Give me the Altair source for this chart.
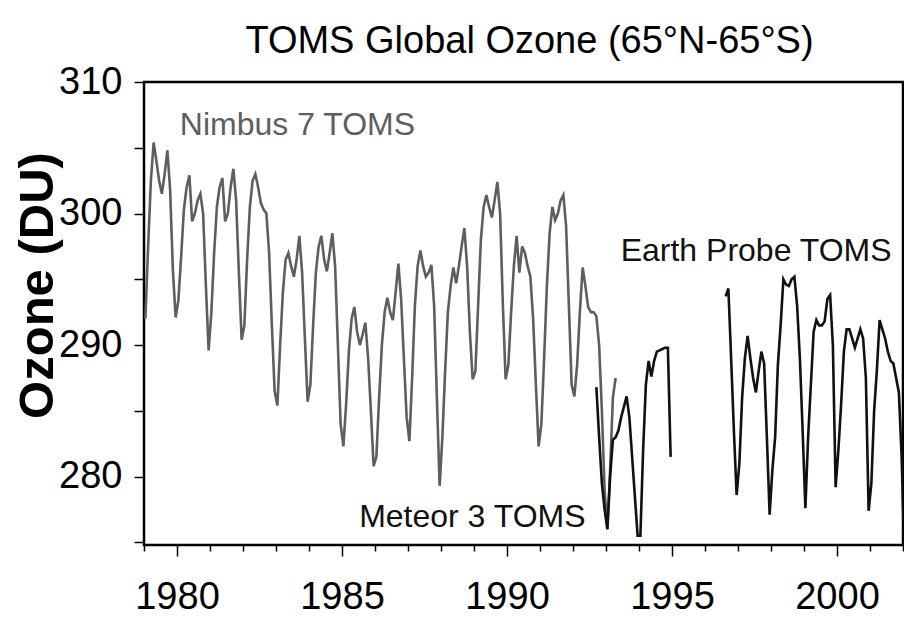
import altair as alt
import pandas as pd

# ---------------- data (monthly global ozone, DU) ----------------
nimbus_start = (1979, 1)
nimbus_values = [
    292.0, 297.5, 302.5, 305.4, 304.0, 302.5, 301.5, 303.0, 304.8, 301.8, 295.7, 292.1,  # 1979
    293.4, 296.7, 300.3, 302.0, 302.9, 299.4, 300.0, 301.0, 301.5, 300.0, 294.5, 289.6,  # 1980
    292.5, 297.0, 300.5, 302.0, 302.7, 299.4, 300.0, 302.0, 303.4, 301.0, 295.5, 290.4,  # 1981
    291.5, 296.5, 300.5, 302.5, 303.0, 302.0, 300.8, 300.3, 300.0, 297.0, 291.5, 286.5,  # 1982
    285.4, 290.0, 294.0, 296.5, 297.0, 296.0, 295.2, 296.5, 298.3, 295.5, 290.5, 285.7,  # 1983
    287.0, 291.5, 295.5, 297.5, 298.3, 296.5, 295.6, 297.0, 298.5, 296.0, 290.0, 284.0,  # 1984
    282.3, 285.5, 289.5, 292.0, 292.9, 291.0, 290.0, 290.8, 291.7, 289.0, 285.0, 280.8,  # 1985
    281.5, 286.0, 290.0, 292.5, 293.6, 292.5, 291.9, 294.0, 296.2, 293.5, 289.0, 284.5,  # 1986
    282.7, 287.5, 293.0, 296.0, 297.2, 296.0, 295.2, 295.5, 296.1, 293.0, 286.0, 279.3,  # 1987
    283.0, 288.0, 292.5, 294.5, 295.9, 294.7, 296.0, 297.5, 298.9, 296.0, 291.0, 287.4,  # 1988
    288.0, 293.0, 298.0, 300.5, 301.4, 300.5, 299.7, 301.0, 302.4, 300.0, 293.0, 287.4,  # 1989
    288.5, 292.5, 296.0, 298.3, 295.5, 297.5, 297.0, 296.0, 295.2, 292.0, 287.0, 282.3,  # 1990
    284.0, 289.0, 294.5, 298.5, 300.5, 299.5, 300.0, 301.0, 301.4, 299.0, 293.0, 287.0,  # 1991
    286.1, 288.5, 292.5, 295.9, 294.5, 292.9, 292.5, 292.5, 292.2, 290.0, 285.0, 279.0,  # 1992
    276.0, 280.5, 286.0, 287.5,                                                          # 1993
]

meteor_start = (1992, 9)
meteor_values = [
    286.8, 283.0, 279.5, 277.5,                                                          # 1992
    276.0, 280.0, 282.8, 283.0, 283.5, 284.5, 285.3, 286.1, 284.5, 281.5, 278.5, 275.5,  # 1993
    275.5, 282.0, 287.0, 288.8, 287.6, 288.8, 289.5, 289.6, 289.7, 289.8, 289.8, 281.5,  # 1994
]

ep_start = (1996, 8)
ep_values = [
    293.7, 294.3, 289.0, 283.5, 278.6,                                                   # 1996
    281.0, 286.0, 289.0, 290.7, 289.0, 287.5, 286.4, 288.0, 289.5, 288.6, 283.0, 277.1,  # 1997
    280.5, 283.0, 288.5, 291.5, 295.0, 294.6, 294.5, 295.0, 295.2, 293.0, 289.0, 283.5,  # 1998
    277.6, 283.0, 287.0, 291.0, 291.9, 291.5, 291.5, 291.8, 293.5, 293.8, 290.0, 279.2,  # 1999
    282.0, 285.5, 289.5, 291.2, 291.2, 290.5, 289.8, 290.5, 291.2, 290.5, 287.5, 277.4,  # 2000
    279.5, 285.0, 288.1, 291.9, 291.2, 290.5, 289.5, 288.8, 288.6, 287.5, 286.4, 281.5,  # 2001
    274.0,                                                                               # 2002
]

series_names = ["Nimbus 7 TOMS", "Meteor 3 TOMS", "Earth Probe TOMS"]
series_colors = ["#5e5e5e", "#111111", "#111111"]

label_text = ["Nimbus 7 TOMS", "Meteor 3 TOMS", "Earth Probe TOMS"]
label_year = [1983.65, 1988.95, 1997.55]
label_ozone = [306.0, 276.2, 296.4]

x_ticks = list(range(1979, 2003))
y_ticks = list(range(275, 311, 5))


def to_rows(name, start, values):
    y0, m0 = start
    rows = []
    for i, v in enumerate(values):
        k = (m0 - 1) + i
        rows.append({"t": y0 + (k + 0.5) / 12.0, "ozone": v, "series": name})
    return rows


rows = (to_rows(series_names[0], nimbus_start, nimbus_values)
        + to_rows(series_names[1], meteor_start, meteor_values)
        + to_rows(series_names[2], ep_start, ep_values))
df = pd.DataFrame(rows)
labels_df = pd.DataFrame({"text": label_text, "t": label_year, "ozone": label_ozone,
                          "series": label_text})

FONT = "Liberation Sans"

x_scale = alt.Scale(domain=[1979, 2002], nice=False, zero=False)
y_scale = alt.Scale(domain=[274.8, 310], nice=False, zero=False)
color_scale = alt.Scale(domain=series_names, range=series_colors)

x_axis = alt.Axis(
    values=x_ticks, format="d", title=None, grid=False, domain=False,
    labelExpr="datum.value % 5 == 0 ? datum.label : ''",
    tickSize={"condition": {"test": "datum.value % 5 == 0", "value": 11}, "value": 6},
    tickColor="black", tickWidth=1.5, labelFont=FONT, labelFontSize=38,
    labelColor="black", labelPadding=22, labelOverlap=False, labelFlush=False,
)
y_axis = alt.Axis(
    values=y_ticks, title="Ozone (DU)", grid=False, domain=False,
    labelExpr="datum.value % 10 == 0 ? datum.label : ''",
    tickSize=10, tickColor="black", tickWidth=1.5, labelFont=FONT,
    labelFontSize=38, labelColor="black", labelPadding=12, labelOverlap=False,
    labelFlush=False,
    titleFont=FONT, titleFontWeight="bold", titleFontSize=49,
    titleColor="black", titleAngle=-90, titleX=-92, titleY=203,
    titleAlign="center", titleBaseline="alphabetic",
)

lines = alt.Chart(df).mark_line(clip=True, strokeWidth=2.6).encode(
    x=alt.X("t:Q", scale=x_scale, axis=x_axis),
    y=alt.Y("ozone:Q", scale=y_scale, axis=y_axis),
    color=alt.Color("series:N", scale=color_scale, legend=None),
    detail="series:N",
)

texts = alt.Chart(labels_df).mark_text(
    font=FONT, fontSize=32, align="center", baseline="alphabetic",
).encode(
    x=alt.X("t:Q", scale=x_scale, axis=x_axis),
    y=alt.Y("ozone:Q", scale=y_scale, axis=y_axis),
    text="text:N",
    color=alt.Color("series:N", scale=color_scale, legend=None),
)

chart = alt.layer(lines, texts).properties(
    width=759, height=463,
    title=alt.TitleParams(
        "TOMS Global Ozone (65°N-65°S)", font=FONT, fontSize=38,
        fontWeight="normal", color="black", anchor="middle", dx=6, offset=2,
    ),
    autosize=alt.AutoSizeParams(type="none"),
    padding={"left": 144, "top": 82, "right": 1, "bottom": 76},
).configure(
    background="white",
    view=alt.ViewConfig(stroke="black", strokeWidth=2.5),
    axis=alt.AxisConfig(labelOverlap=False),
)

chart.save("out.html", embed_options={"renderer": "svg", "actions": False})
